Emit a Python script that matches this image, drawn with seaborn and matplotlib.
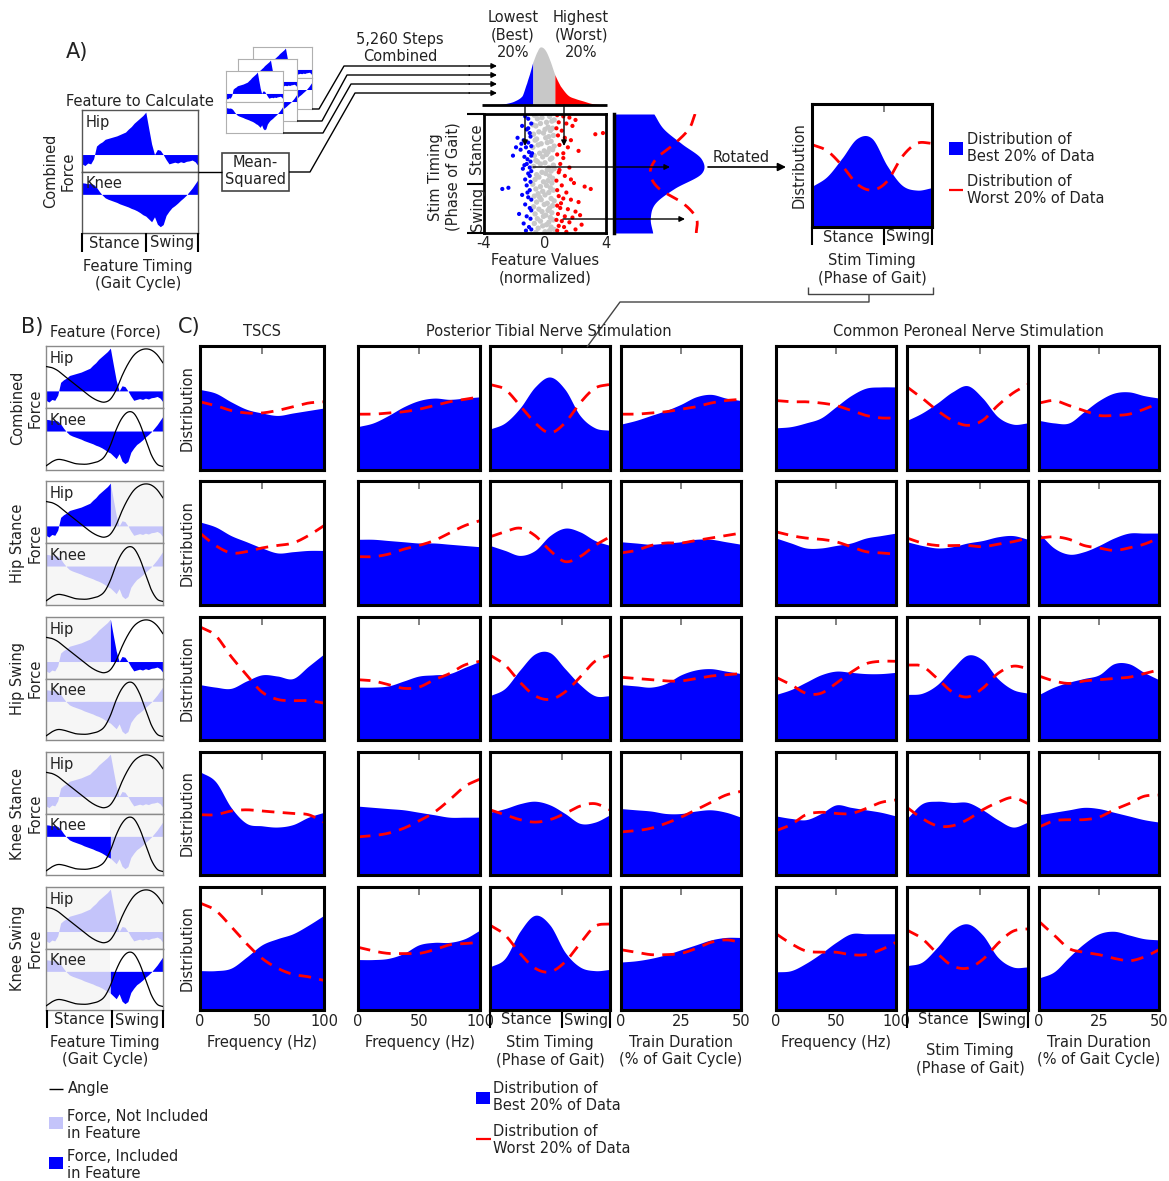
import numpy as np
import matplotlib
matplotlib.use('Agg')
import matplotlib.pyplot as plt
from matplotlib.patches import Rectangle
import seaborn as sns
import pandas as pd

# ---------------------------------------------------------------- data
# force traces over one gait cycle (41 samples) and joint angles (21 samples)
gait_x = np.linspace(0, 1, 41)
hip_force = [-0.22, -0.26, -0.20, -0.22, -0.10, 0.20, 0.26, 0.30, 0.36, 0.38,
             0.40, 0.42, 0.44, 0.47, 0.50, 0.53, 0.60, 0.66, 0.74, 0.80,
             0.86, 0.92, 1.00, 0.62, 0.25, 0.00, 0.12, 0.10, 0.00, -0.12,
             -0.22, -0.20, -0.18, -0.20, -0.17, -0.19, -0.16, -0.15, -0.13, -0.17, -0.26]
knee_force = [0.33, 0.32, 0.30, 0.31, 0.28, 0.20, 0.08, -0.02, -0.10, -0.14,
              -0.17, -0.20, -0.23, -0.27, -0.30, -0.33, -0.36, -0.40, -0.43, -0.47,
              -0.52, -0.58, -0.62, -0.70, -0.78, -0.64, -0.85, -0.92, -0.86, -0.60,
              -0.48, -0.38, -0.32, -0.25, -0.17, -0.10, -0.02, 0.08, 0.18, 0.30, 0.42]
angle_x = np.linspace(0, 1, 21)
hip_angle = [0.68, 0.66, 0.61, 0.53, 0.45, 0.37, 0.29, 0.21, 0.14, 0.09, 0.07,
             0.12, 0.28, 0.52, 0.72, 0.87, 0.95, 0.98, 0.96, 0.88, 0.74]
knee_angle = [0.04, 0.11, 0.15, 0.14, 0.11, 0.08, 0.07, 0.07, 0.09, 0.12, 0.20,
              0.39, 0.66, 0.86, 0.96, 0.94, 0.77, 0.50, 0.23, 0.07, 0.03]

row_labels = ['Combined\nForce', 'Hip Stance\nForce', 'Hip Swing\nForce',
              'Knee Stance\nForce', 'Knee Swing\nForce']
hip_included = [(0, 1), (0, 0.55), (0.55, 1), None, None]
knee_included = [(0, 1), None, None, (0, 0.55), (0.55, 1)]

# stimulation parameter grids
freq_grid = [0, 12.5, 25, 37.5, 50, 62.5, 75, 87.5, 100]
dur_grid = [0, 6.25, 12.5, 18.75, 25, 31.25, 37.5, 43.75, 50]
phase_grid = [0, 0.125, 0.25, 0.375, 0.5, 0.625, 0.75, 0.875, 1.0]
col_kinds = ['freq', 'freq', 'stim', 'dur', 'freq', 'stim', 'dur']

# distribution of best 20% (blue fill) and worst 20% (red dashed), one row per feature
best_combined = [[0.65, 0.62, 0.55, 0.49, 0.46, 0.44, 0.46, 0.48, 0.50],
                 [0.35, 0.38, 0.44, 0.51, 0.56, 0.58, 0.57, 0.58, 0.59],
                 [0.33, 0.38, 0.50, 0.67, 0.75, 0.65, 0.44, 0.34, 0.32],
                 [0.37, 0.40, 0.44, 0.48, 0.53, 0.59, 0.61, 0.58, 0.56],
                 [0.34, 0.35, 0.38, 0.42, 0.51, 0.60, 0.66, 0.67, 0.67],
                 [0.40, 0.46, 0.54, 0.63, 0.68, 0.58, 0.43, 0.37, 0.38],
                 [0.40, 0.38, 0.38, 0.47, 0.56, 0.62, 0.63, 0.60, 0.58]]
worst_combined = [[0.55, 0.52, 0.48, 0.46, 0.46, 0.48, 0.51, 0.54, 0.55],
                  [0.45, 0.45, 0.46, 0.47, 0.49, 0.52, 0.55, 0.57, 0.59],
                  [0.69, 0.65, 0.52, 0.38, 0.30, 0.38, 0.54, 0.66, 0.69],
                  [0.45, 0.45, 0.46, 0.47, 0.49, 0.51, 0.54, 0.56, 0.57],
                  [0.56, 0.55, 0.55, 0.54, 0.52, 0.48, 0.44, 0.42, 0.42],
                  [0.67, 0.58, 0.48, 0.40, 0.36, 0.40, 0.52, 0.62, 0.69],
                  [0.54, 0.56, 0.52, 0.48, 0.44, 0.44, 0.45, 0.49, 0.54]]
best_hip_stance = [[0.67, 0.63, 0.56, 0.51, 0.46, 0.42, 0.43, 0.44, 0.44],
                   [0.53, 0.53, 0.52, 0.51, 0.50, 0.50, 0.49, 0.48, 0.47],
                   [0.48, 0.44, 0.40, 0.44, 0.56, 0.62, 0.59, 0.52, 0.48],
                   [0.51, 0.50, 0.49, 0.50, 0.51, 0.53, 0.53, 0.51, 0.49],
                   [0.54, 0.50, 0.46, 0.46, 0.48, 0.50, 0.54, 0.56, 0.58],
                   [0.51, 0.48, 0.46, 0.47, 0.50, 0.52, 0.55, 0.56, 0.53],
                   [0.58, 0.46, 0.41, 0.43, 0.48, 0.54, 0.58, 0.58, 0.58]]
worst_hip_stance = [[0.58, 0.48, 0.42, 0.43, 0.46, 0.48, 0.50, 0.56, 0.64],
                    [0.39, 0.39, 0.41, 0.45, 0.48, 0.52, 0.58, 0.64, 0.68],
                    [0.55, 0.59, 0.62, 0.56, 0.44, 0.35, 0.39, 0.48, 0.55],
                    [0.42, 0.44, 0.48, 0.50, 0.50, 0.52, 0.54, 0.56, 0.58],
                    [0.59, 0.56, 0.54, 0.53, 0.51, 0.47, 0.43, 0.42, 0.41],
                    [0.54, 0.50, 0.48, 0.48, 0.48, 0.47, 0.49, 0.51, 0.54],
                    [0.54, 0.55, 0.53, 0.48, 0.46, 0.44, 0.46, 0.49, 0.54]]
best_hip_swing = [[0.45, 0.43, 0.42, 0.48, 0.53, 0.52, 0.50, 0.60, 0.70],
                  [0.43, 0.43, 0.44, 0.48, 0.52, 0.53, 0.54, 0.59, 0.64],
                  [0.36, 0.42, 0.57, 0.70, 0.71, 0.58, 0.45, 0.36, 0.36],
                  [0.45, 0.44, 0.43, 0.46, 0.53, 0.57, 0.58, 0.56, 0.54],
                  [0.37, 0.41, 0.47, 0.53, 0.56, 0.55, 0.54, 0.54, 0.55],
                  [0.37, 0.38, 0.45, 0.58, 0.69, 0.65, 0.50, 0.41, 0.38],
                  [0.37, 0.43, 0.47, 0.50, 0.53, 0.62, 0.62, 0.55, 0.49]]
worst_hip_swing = [[0.92, 0.85, 0.68, 0.53, 0.39, 0.33, 0.32, 0.32, 0.30],
                   [0.49, 0.48, 0.45, 0.42, 0.43, 0.49, 0.54, 0.61, 0.64],
                   [0.69, 0.61, 0.47, 0.36, 0.33, 0.39, 0.51, 0.64, 0.69],
                   [0.51, 0.50, 0.49, 0.48, 0.48, 0.50, 0.52, 0.53, 0.54],
                   [0.51, 0.45, 0.38, 0.38, 0.46, 0.55, 0.62, 0.64, 0.64],
                   [0.61, 0.60, 0.50, 0.39, 0.35, 0.42, 0.54, 0.60, 0.58],
                   [0.52, 0.48, 0.46, 0.48, 0.49, 0.50, 0.51, 0.54, 0.57]]
best_knee_stance = [[0.84, 0.76, 0.55, 0.42, 0.40, 0.39, 0.41, 0.47, 0.51],
                    [0.56, 0.55, 0.54, 0.53, 0.51, 0.49, 0.47, 0.47, 0.47],
                    [0.51, 0.54, 0.58, 0.60, 0.57, 0.50, 0.42, 0.43, 0.49],
                    [0.54, 0.53, 0.52, 0.50, 0.50, 0.52, 0.53, 0.51, 0.47],
                    [0.48, 0.46, 0.45, 0.50, 0.57, 0.55, 0.53, 0.51, 0.48],
                    [0.46, 0.58, 0.60, 0.59, 0.59, 0.53, 0.45, 0.39, 0.43],
                    [0.49, 0.51, 0.53, 0.55, 0.54, 0.51, 0.48, 0.45, 0.43]]
worst_knee_stance = [[0.49, 0.49, 0.52, 0.53, 0.52, 0.51, 0.50, 0.49, 0.43],
                     [0.31, 0.32, 0.34, 0.38, 0.44, 0.51, 0.61, 0.72, 0.78],
                     [0.53, 0.49, 0.45, 0.43, 0.45, 0.50, 0.56, 0.58, 0.53],
                     [0.35, 0.36, 0.38, 0.42, 0.47, 0.53, 0.59, 0.65, 0.68],
                     [0.36, 0.41, 0.49, 0.51, 0.50, 0.50, 0.54, 0.59, 0.61],
                     [0.55, 0.46, 0.40, 0.40, 0.45, 0.53, 0.59, 0.63, 0.58],
                     [0.39, 0.44, 0.45, 0.45, 0.47, 0.53, 0.58, 0.64, 0.65]]
best_knee_swing = [[0.32, 0.32, 0.34, 0.43, 0.53, 0.58, 0.62, 0.69, 0.77],
                   [0.41, 0.41, 0.42, 0.46, 0.53, 0.55, 0.55, 0.58, 0.65],
                   [0.35, 0.42, 0.64, 0.77, 0.69, 0.47, 0.35, 0.32, 0.33],
                   [0.39, 0.40, 0.42, 0.45, 0.49, 0.53, 0.57, 0.59, 0.59],
                   [0.31, 0.32, 0.38, 0.46, 0.55, 0.62, 0.62, 0.62, 0.62],
                   [0.36, 0.39, 0.51, 0.65, 0.70, 0.61, 0.43, 0.35, 0.35],
                   [0.26, 0.31, 0.43, 0.54, 0.62, 0.64, 0.61, 0.58, 0.57]]
worst_knee_swing = [[0.87, 0.81, 0.68, 0.54, 0.42, 0.34, 0.29, 0.27, 0.24],
                    [0.51, 0.48, 0.46, 0.46, 0.46, 0.49, 0.53, 0.54, 0.55],
                    [0.69, 0.61, 0.46, 0.34, 0.31, 0.39, 0.54, 0.68, 0.70],
                    [0.49, 0.47, 0.45, 0.45, 0.46, 0.50, 0.55, 0.57, 0.55],
                    [0.62, 0.54, 0.48, 0.47, 0.47, 0.45, 0.45, 0.49, 0.55],
                    [0.65, 0.58, 0.46, 0.36, 0.34, 0.41, 0.54, 0.64, 0.66],
                    [0.72, 0.61, 0.50, 0.47, 0.45, 0.42, 0.40, 0.43, 0.49]]

# example used in panel A
best_example = [0.33, 0.41, 0.56, 0.72, 0.72, 0.50, 0.34, 0.30, 0.32]
worst_example = [0.67, 0.62, 0.50, 0.35, 0.30, 0.37, 0.57, 0.68, 0.68]
kde_x = [-4, -3.5, -3, -2.5, -2, -1.5, -1.2, -1, -0.8, -0.5, -0.3, 0, 0.3, 0.65, 1, 1.5, 2, 2.5, 3, 3.5, 4]
kde_y = [0, 0.005, 0.01, 0.03, 0.07, 0.16, 0.38, 0.55, 0.74, 0.93, 1.0, 0.95, 0.78, 0.52, 0.33,
         0.17, 0.11, 0.07, 0.03, 0.01, 0]
best_cut, worst_cut = -0.8, 0.65

blue_x = [-1.3, -1.1, -0.9, -1.5, -1.2, -1.0, -0.95, -1.4, -1.1, -0.9, -1.25, -1.6, -1.05, -0.9, -1.35,
          -1.15, -0.95, -2.1, -1.8, -1.2, -1.0, -0.9, -1.45, -1.1, -2.4, -1.3, -0.95, -1.2, -1.0, -2.8,
          -1.5, -1.1, -0.9, -1.3, -1.0, -1.7, -1.2, -0.95, -1.4, -1.05, -1.25, -0.9, -1.9, -1.1, -1.0,
          -1.35, -0.85, -1.15, -1.55, -0.9]
blue_ph = [0.02, 0.04, 0.08, 0.10, 0.13, 0.16, 0.19, 0.22, 0.24, 0.27, 0.28, 0.30, 0.32, 0.35, 0.36,
           0.38, 0.40, 0.35, 0.20, 0.42, 0.45, 0.48, 0.46, 0.50, 0.62, 0.55, 0.57, 0.60, 0.64, 0.63,
           0.68, 0.70, 0.72, 0.76, 0.79, 0.84, 0.86, 0.88, 0.92, 0.95, 0.98, 0.97, 0.28, 0.12, 0.52,
           0.43, 0.33, 0.66, 0.25, 0.81]
red_x = [0.8, 1.2, 1.6, 2.0, 0.9, 1.4, 1.8, 0.75, 1.1, 3.8, 0.85, 1.3, 1.7, 3.3, 0.95, 1.5, 2.2, 0.8,
         1.2, 1.0, 1.6, 0.9, 1.3, 0.75, 1.1, 1.9, 2.6, 0.8, 1.4, 3.0, 0.9, 1.2, 1.7, 2.2, 0.8, 1.0, 1.5,
         2.0, 0.85, 1.3, 1.8, 0.75, 1.1, 1.6, 2.4, 0.9, 1.25, 2.0, 0.8, 1.4, 1.05, 1.7, 2.3, 0.95, 1.2]
red_ph = [0.01, 0.02, 0.03, 0.05, 0.07, 0.08, 0.10, 0.12, 0.14, 0.16, 0.18, 0.20, 0.22, 0.17, 0.26,
          0.28, 0.31, 0.34, 0.37, 0.42, 0.45, 0.49, 0.52, 0.56, 0.60, 0.58, 0.61, 0.64, 0.66, 0.63,
          0.69, 0.71, 0.72, 0.74, 0.77, 0.79, 0.80, 0.82, 0.84, 0.86, 0.87, 0.89, 0.90, 0.91, 0.93,
          0.94, 0.95, 0.97, 0.98, 0.99, 0.75, 0.55, 0.85, 0.47, 0.33]
gray_x = [-0.7, -0.2, 0.3, 0.6, -0.5, 0.1, 0.45, -0.8, -0.3, 0.2, -0.6, 0.0, 0.5, -0.4, 0.35, -0.75,
          -0.1, 0.25, 0.55, -0.55, 0.05, 0.4, -0.65, -0.25, 0.15, 0.6, -0.45, 0.3, -0.8, -0.05, 0.5,
          -0.35, 0.2, -0.7, 0.1, 0.45, -0.15, -0.6, 0.35, 0.0, -0.5, 0.55, -0.3, 0.25, -0.75, 0.15,
          0.6, -0.2, 0.4, -0.55, 0.05, -0.4, 0.3, -0.65, 0.5, -0.1, 0.2, -0.8, 0.45, -0.3, 0.1, -0.6,
          0.35, -0.15, 0.55, -0.45, 0.25, -0.7, 0.0, 0.4, -0.35, 0.6, -0.25, 0.15, -0.55, 0.5, -0.05,
          0.3, -0.75, 0.2, -0.4, 0.45, -0.2, 0.05, -0.65, 0.35, -0.1, 0.55, -0.5, 0.25, -0.3, 0.1,
          -0.7, 0.4, -0.15, 0.6, -0.45, 0.0, 0.3, -0.6]
gray_ph = [0.01, 0.03, 0.02, 0.05, 0.04, 0.07, 0.06, 0.09, 0.08, 0.11, 0.10, 0.13, 0.12, 0.15, 0.14,
           0.17, 0.16, 0.19, 0.18, 0.21, 0.20, 0.23, 0.22, 0.25, 0.24, 0.27, 0.26, 0.29, 0.28, 0.31,
           0.30, 0.33, 0.32, 0.35, 0.34, 0.37, 0.36, 0.39, 0.38, 0.41, 0.40, 0.43, 0.42, 0.45, 0.44,
           0.47, 0.46, 0.49, 0.48, 0.51, 0.50, 0.53, 0.52, 0.55, 0.54, 0.57, 0.56, 0.59, 0.58, 0.61,
           0.60, 0.63, 0.62, 0.65, 0.64, 0.67, 0.66, 0.69, 0.68, 0.71, 0.70, 0.73, 0.72, 0.75, 0.74,
           0.77, 0.76, 0.79, 0.78, 0.81, 0.80, 0.83, 0.82, 0.85, 0.84, 0.87, 0.86, 0.89, 0.88, 0.91,
           0.90, 0.93, 0.92, 0.95, 0.94, 0.97, 0.96, 0.99, 0.98, 0.995]

# ---------------------------------------------------------------- style
sns.set_theme(style='white')
plt.rcParams['font.family'] = ['DejaVu Sans']
BLUE, RED, LIGHT, GRAY_PT, BG_EX, TXT = '#0000ff', '#ff0000', '#c4c4fa', '#c8c8c8', '#f6f6f6', '#222222'
FS = 10.5

W, H = 1169, 1181
fig = plt.figure(figsize=(W / 100, H / 100), dpi=100)
fig.patch.set_facecolor('white')


def add_ax(x0, y0, x1, y1):
    return fig.add_axes([x0 / W, 1 - y1 / H, (x1 - x0) / W, (y1 - y0) / H])


def smooth(xs, ys, n=240):
    xs = np.asarray(xs, float)
    ys = np.asarray(ys, float)
    m = len(ys)
    t = np.linspace(0, m - 1, n)
    i = np.clip(np.floor(t).astype(int), 0, m - 2)
    u = t - i
    p = np.concatenate([[2 * ys[0] - ys[1]], ys, [2 * ys[-1] - ys[-2]]])
    p0, p1, p2, p3 = p[i], p[i + 1], p[i + 2], p[i + 3]
    y = 0.5 * (2 * p1 + (p2 - p0) * u + (2 * p0 - 5 * p1 + 4 * p2 - p3) * u ** 2
               + (3 * p1 - p0 - 3 * p2 + p3) * u ** 3)
    x = np.interp(t, np.arange(m), xs)
    return x, y


def force_pair(left, top, right, bot, incl_h, incl_k, angles=True, shade=True,
               names=True, frame='#8a8a8a', flw=1.0):
    mid = (top + bot) / 2
    xd = np.linspace(0, 1, 1201)
    specs = [((top, mid), hip_force, (-0.4, 1.05), hip_angle, 'Hip', incl_h),
             ((mid, bot), knee_force, (-1.1, 0.65), knee_angle, 'Knee', incl_k)]
    for (t0, t1), f, ylim, ang, name, incl in specs:
        ax = add_ax(left, t0, right, t1)
        fd = np.interp(xd, gait_x, f)
        if incl is None:
            mask = np.zeros_like(xd, bool)
        else:
            mask = (xd >= incl[0]) & (xd <= incl[1])
        if shade and not mask.all():
            ax.set_facecolor(BG_EX)
            if mask.any():
                ax.axvspan(incl[0], incl[1], color='white', lw=0, zorder=0)
        ax.fill_between(xd, 0, fd, where=~mask, color=LIGHT, lw=0)
        ax.fill_between(xd, 0, fd, where=mask, color=BLUE, lw=0)
        ax.set_xlim(0, 1)
        ax.set_ylim(*ylim)
        ax.set_xticks([])
        ax.set_yticks([])
        for s in ax.spines.values():
            s.set_color(frame)
            s.set_linewidth(flw)
        if names:
            ax.text(0.035, 0.8, name, transform=ax.transAxes, fontsize=FS, color=TXT,
                    ha='left', va='center', zorder=5)
        if angles:
            ax2 = ax.twinx()
            axd, ad = smooth(angle_x, ang, 300)
            sns.lineplot(x=axd, y=ad, ax=ax2, color='black', lw=0.9, estimator=None, sort=False)
            ax2.set_ylim(-0.03, 1.03)
            ax2.set_xlim(0, 1)
            ax2.axis('off')


def dist_panel(ax, grid, best, worst, kind, last=False):
    xd, bd = smooth(grid, best)
    _, wd = smooth(grid, worst)
    ax.fill_between(xd, 0, bd, color=BLUE, lw=0)
    ax.plot(xd, wd, color=RED, lw=2.0, dashes=(4.5, 3))
    ax.set_xlim(grid[0], grid[-1])
    ax.set_ylim(0, 1)
    ax.set_yticks([])
    ticks = {'freq': [0, 50, 100], 'dur': [0, 25, 50], 'stim': [0.6]}[kind]
    ax.set_xticks(ticks)
    ax.tick_params(axis='x', direction='in', top=True, bottom=True, length=6, width=1.3,
                   color='#777777', labelbottom=(last and kind != 'stim'), labelsize=FS,
                   labelcolor=TXT, pad=3)
    if kind != 'stim':
        mt = ax.xaxis.get_major_ticks()
        for k in (0, 2):
            mt[k].tick1line.set_visible(False)
            mt[k].tick2line.set_visible(False)
    for s in ax.spines.values():
        s.set_linewidth(2.2)
        s.set_color('black')


# ---------------------------------------------------------------- panel C grid
cols_x = [(200, 324), (358, 480), (490, 610), (621, 741), (776, 896), (907, 1028), (1039, 1159)]
rows_y = [(346, 470), (481, 605), (617, 740), (752, 875), (887, 1010)]
best_rows = [best_combined, best_hip_stance, best_hip_swing, best_knee_stance, best_knee_swing]
worst_rows = [worst_combined, worst_hip_stance, worst_hip_swing, worst_knee_stance, worst_knee_swing]
grids = {'freq': freq_grid, 'dur': dur_grid, 'stim': phase_grid}

for r in range(5):
    for c in range(7):
        ax = add_ax(cols_x[c][0], rows_y[r][0], cols_x[c][1], rows_y[r][1])
        kind = col_kinds[c]
        dist_panel(ax, grids[kind], best_rows[r][c], worst_rows[r][c], kind, last=(r == 4))
        if c == 0:
            ax.set_ylabel('Distribution', fontsize=FS, color=TXT, labelpad=4)

# ---------------------------------------------------------------- panel B
for r in range(5):
    force_pair(46, rows_y[r][0], 163, rows_y[r][1], hip_included[r], knee_included[r],
               angles=True, shade=(r > 0))

# ---------------------------------------------------------------- panel A
for (l, t, rr, b) in [(253, 47, 312, 109), (238, 59, 297, 121), (226, 71, 283, 133)]:
    force_pair(l, t, rr, b, (0, 1), (0, 1), angles=False, shade=False, names=False,
               frame='#b0b0b0', flw=0.8)
force_pair(82, 110, 198, 233, (0, 1), (0, 1), angles=False, shade=False, names=True,
           frame='#555555', flw=1.0)

# top distribution of feature values
ax_k = add_ax(484, 44, 606, 105)
kx, ky = smooth(kde_x, kde_y, 800)
ky = np.clip(ky, 0, None)
ax_k.fill_between(kx, 0, ky, where=kx <= best_cut + 0.01, color=BLUE, lw=0)
ax_k.fill_between(kx, 0, ky, where=(kx >= best_cut) & (kx <= worst_cut), color=GRAY_PT, lw=0)
ax_k.fill_between(kx, 0, ky, where=kx >= worst_cut - 0.01, color=RED, lw=0)
ax_k.set_xlim(-4, 4)
ax_k.set_ylim(0, 1.05)
ax_k.axis('off')

# scatter of feature value vs stimulation timing
ax_s = add_ax(484, 114, 606, 233)
pts = pd.DataFrame({
    'value': gray_x + blue_x + red_x,
    'phase': gray_ph + blue_ph + red_ph,
    'group': ['mid'] * len(gray_x) + ['best'] * len(blue_x) + ['worst'] * len(red_x)})
sizes = {'mid': 15, 'best': 9, 'worst': 9}
sns.scatterplot(data=pts, x='value', y='phase', hue='group', size='group', sizes=sizes,
                ax=ax_s, linewidth=0,
                palette={'mid': GRAY_PT, 'best': BLUE, 'worst': RED}, legend=False)
ax_s.set_xlim(-4, 4)
ax_s.set_ylim(1, 0)
ax_s.set_xticks([-4, 0, 4])
ax_s.set_xticklabels(['-4', '0', '4'])
ax_s.set_yticks([])
ax_s.set_xlabel('')
ax_s.set_ylabel('')
ax_s.tick_params(axis='x', length=0, labelsize=FS, labelcolor=TXT, pad=2.5)
for s in ax_s.spines.values():
    s.set_linewidth(2.0)
    s.set_color('black')

# rotated distribution
ax_r = add_ax(614, 114, 735, 233)
px, pb = smooth(phase_grid, best_example)
_, pw = smooth(phase_grid, worst_example)
ax_r.fill_betweenx(px, 0, pb, color=BLUE, lw=0)
ax_r.plot(pw, px, color=RED, lw=2.0, dashes=(4.5, 3))
ax_r.set_xlim(0, 1)
ax_r.set_ylim(1, 0)
ax_r.set_xticks([])
ax_r.set_yticks([0.6])
ax_r.set_yticklabels([])
ax_r.tick_params(axis='y', direction='in', length=6, width=1.3, color='#777777')
for k, s in ax_r.spines.items():
    s.set_visible(k == 'left')
ax_r.spines['left'].set_linewidth(2.5)
ax_r.spines['left'].set_color('black')
ax_r.patch.set_alpha(0)

# example distribution panel
ax_e = add_ax(812, 104, 932, 227)
dist_panel(ax_e, phase_grid, best_example, worst_example, 'stim')
ax_e.set_ylabel('Distribution', fontsize=FS, color=TXT, labelpad=4)

# ---------------------------------------------------------------- overlay (texts, connectors)
ov = fig.add_axes([0, 0, 1, 1])
ov.set_xlim(0, W)
ov.set_ylim(H, 0)
ov.axis('off')
ov.set_zorder(10)
ov.patch.set_alpha(0)


def T(x, y, s, size=FS, **kw):
    kw.setdefault('ha', 'center')
    kw.setdefault('va', 'center')
    ov.text(x, y, s, fontsize=size, color=TXT, **kw)


def L(xs, ys, lw=1.0, color='black'):
    ov.plot(xs, ys, color=color, lw=lw, solid_capstyle='butt')


def arrow(x0, y0, x1, y1, lw=1.0, ms=8):
    ov.annotate('', xy=(x1, y1), xytext=(x0, y0),
                arrowprops=dict(arrowstyle='-|>', lw=lw, color='black', mutation_scale=ms,
                                shrinkA=0, shrinkB=0))


def stance_swing(x0, x1, frac, y0, y1, ytxt):
    xm = x0 + frac * (x1 - x0)
    for xx in (x0, xm, x1):
        L([xx, xx], [y0, y1], lw=1.5)
    T((x0 + xm) / 2, ytxt, 'Stance')
    T((xm + x1) / 2, ytxt, 'Swing')


# panel letters and headers
T(77, 52, 'A)', size=15)
T(32, 327, 'B)', size=15)
T(189, 327, 'C)', size=15)
T(105, 332, 'Feature (Force)')
T(262, 332, 'TSCS')
T(549, 332, 'Posterior Tibial Nerve Stimulation')
T(968, 332, 'Common Peroneal Nerve Stimulation')

# panel A texts
T(140, 101, 'Feature to Calculate')
T(59, 171, 'Combined\nForce', rotation=90)
stance_swing(82, 198, 0.55, 233, 252, 243)
T(138, 275, 'Feature Timing\n(Gait Cycle)')
T(400, 48, '5,260 Steps\nCombined')
ov.add_patch(Rectangle((222, 153), 67, 38, fill=False, ec='#444444', lw=1.2))
T(255, 171, 'Mean-\nSquared')
L([198, 222], [172, 172])
L([312, 319, 344, 470], [109, 109, 66, 66])
L([297, 322, 347, 470], [121, 121, 75, 75])
L([283, 323, 351, 470], [133, 133, 84, 84])
L([289, 310, 355, 470], [172, 172, 93, 93])
for yy in (66, 75, 84, 93):
    arrow(469, yy, 497, yy)
T(513, 35, 'Lowest\n(Best)\n20%')
T(581, 35, 'Highest\n(Worst)\n20%')
L([482, 607], [105, 105], lw=2.0)
arrow(525, 105, 525, 146)
arrow(564, 105, 564, 146)
arrow(533, 167, 670, 167)
arrow(563, 219, 685, 219)
for yy in (114, 184, 233):
    L([467, 484], [yy, yy], lw=1.5)
T(477, 149, 'Stance', rotation=90)
T(477, 209, 'Swing', rotation=90)
T(444, 177, 'Stim Timing\n(Phase of Gait)', rotation=90)
T(545, 269, 'Feature Values\n(normalized)')
T(741, 157, 'Rotated')
arrow(708, 167, 786, 167, lw=1.2, ms=12)
stance_swing(812, 932, 0.6, 227, 245, 237)
T(872, 269, 'Stim Timing\n(Phase of Gait)')
L([808, 808, 933, 933], [287, 294, 294, 287], lw=1.0, color='#444444')
L([869, 869, 620, 587], [294, 302, 302, 347], lw=1.0, color='#444444')
ov.add_patch(Rectangle((949, 142), 14, 13, color=BLUE, lw=0))
T(967, 148, 'Distribution of\nBest 20% of Data', ha='left')
L([949, 963], [190, 190], lw=1.6, color=RED)
T(967, 190, 'Distribution of\nWorst 20% of Data', ha='left')

# panel B labels
for r in range(5):
    T(26, (rows_y[r][0] + rows_y[r][1]) / 2, row_labels[r], rotation=90)
stance_swing(47, 163, 0.56, 1010, 1028, 1020)
T(105, 1051, 'Feature Timing\n(Gait Cycle)')

# panel C bottom labels
T(262, 1042, 'Frequency (Hz)')
T(420, 1042, 'Frequency (Hz)')
stance_swing(490, 610, 0.6, 1010, 1028, 1020)
T(550, 1051, 'Stim Timing\n(Phase of Gait)')
T(681, 1051, 'Train Duration\n(% of Gait Cycle)')
T(836, 1042, 'Frequency (Hz)')
stance_swing(907, 1028, 0.6, 1010, 1028, 1020)
T(970, 1059, 'Stim Timing\n(Phase of Gait)')
T(1099, 1051, 'Train Duration\n(% of Gait Cycle)')

# bottom legends
L([49, 63], [1089, 1089], lw=1.0)
T(68, 1089, 'Angle', ha='left')
ov.add_patch(Rectangle((49, 1117), 14, 12, color=LIGHT, lw=0))
T(67, 1125, 'Force, Not Included\nin Feature', ha='left')
ov.add_patch(Rectangle((49, 1157), 14, 12, color=BLUE, lw=0))
T(67, 1165, 'Force, Included\nin Feature', ha='left')
ov.add_patch(Rectangle((476, 1092), 14, 12, color=BLUE, lw=0))
T(493, 1097, 'Distribution of\nBest 20% of Data', ha='left')
L([476, 491], [1139, 1139], lw=1.6, color=RED)
T(493, 1140, 'Distribution of\nWorst 20% of Data', ha='left')

fig.savefig('out.png', dpi=100, facecolor='white')
